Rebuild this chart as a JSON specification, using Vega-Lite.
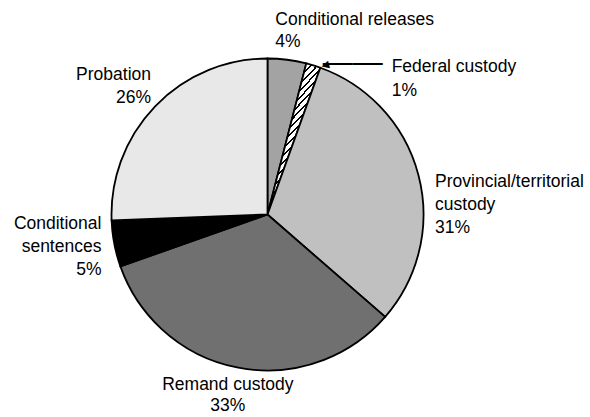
{
  "$schema": "https://vega.github.io/schema/vega-lite/v6.json",
  "autosize": "none",
  "width": 535,
  "height": 405,
  "padding": {"left": 0, "top": 12, "right": 55, "bottom": 0},
  "background": "white",
  "config": {"view": {"stroke": null}, "text": {"font": "Liberation Sans"}},
  "data": {
    "values": [
      {"cat": "Conditional releases", "value": 4.0, "order": 1, "label": "Conditional releases\n4%"},
      {"cat": "Federal custody", "value": 1.5, "order": 2, "label": "Federal custody\n1%"},
      {"cat": "Provincial/territorial custody", "value": 30.9, "order": 3, "label": "Provincial/territorial\ncustody\n31%"},
      {"cat": "Remand custody", "value": 33.2, "order": 4, "label": "Remand custody\n33%"},
      {"cat": "Conditional sentences", "value": 4.8, "order": 5, "label": "Conditional\nsentences\n5%"},
      {"cat": "Probation", "value": 25.6, "order": 6, "label": "Probation\n26%"}
    ]
  },
  "encoding": {
    "theta": {"field": "value", "type": "quantitative", "stack": true},
    "order": {"field": "order", "type": "quantitative"}
  },
  "layer": [
    {
      "mark": {"type": "arc", "outerRadius": 156, "stroke": "black", "strokeWidth": 1.8},
      "encoding": {
        "fill": {
          "condition": {
            "test": "datum.cat === 'Federal custody'",
            "value": {
              "gradient": "linear", "x1": 0, "y1": 0, "x2": 0.361, "y2": 1,
              "stops": [
                {"offset": 0, "color": "#fff"}, {"offset": 0.028, "color": "#fff"}, {"offset": 0.028, "color": "#000"}, {"offset": 0.04, "color": "#000"},
                {"offset": 0.04, "color": "#fff"}, {"offset": 0.068, "color": "#fff"}, {"offset": 0.068, "color": "#000"}, {"offset": 0.08, "color": "#000"},
                {"offset": 0.08, "color": "#fff"}, {"offset": 0.108, "color": "#fff"}, {"offset": 0.108, "color": "#000"}, {"offset": 0.12, "color": "#000"},
                {"offset": 0.12, "color": "#fff"}, {"offset": 0.148, "color": "#fff"}, {"offset": 0.148, "color": "#000"}, {"offset": 0.16, "color": "#000"},
                {"offset": 0.16, "color": "#fff"}, {"offset": 0.188, "color": "#fff"}, {"offset": 0.188, "color": "#000"}, {"offset": 0.2, "color": "#000"},
                {"offset": 0.2, "color": "#fff"}, {"offset": 0.228, "color": "#fff"}, {"offset": 0.228, "color": "#000"}, {"offset": 0.24, "color": "#000"},
                {"offset": 0.24, "color": "#fff"}, {"offset": 0.268, "color": "#fff"}, {"offset": 0.268, "color": "#000"}, {"offset": 0.28, "color": "#000"},
                {"offset": 0.28, "color": "#fff"}, {"offset": 0.308, "color": "#fff"}, {"offset": 0.308, "color": "#000"}, {"offset": 0.32, "color": "#000"},
                {"offset": 0.32, "color": "#fff"}, {"offset": 0.348, "color": "#fff"}, {"offset": 0.348, "color": "#000"}, {"offset": 0.36, "color": "#000"},
                {"offset": 0.36, "color": "#fff"}, {"offset": 0.388, "color": "#fff"}, {"offset": 0.388, "color": "#000"}, {"offset": 0.4, "color": "#000"},
                {"offset": 0.4, "color": "#fff"}, {"offset": 0.428, "color": "#fff"}, {"offset": 0.428, "color": "#000"}, {"offset": 0.44, "color": "#000"},
                {"offset": 0.44, "color": "#fff"}, {"offset": 0.468, "color": "#fff"}, {"offset": 0.468, "color": "#000"}, {"offset": 0.48, "color": "#000"},
                {"offset": 0.48, "color": "#fff"}, {"offset": 0.508, "color": "#fff"}, {"offset": 0.508, "color": "#000"}, {"offset": 0.52, "color": "#000"},
                {"offset": 0.52, "color": "#fff"}, {"offset": 0.548, "color": "#fff"}, {"offset": 0.548, "color": "#000"}, {"offset": 0.56, "color": "#000"},
                {"offset": 0.56, "color": "#fff"}, {"offset": 0.588, "color": "#fff"}, {"offset": 0.588, "color": "#000"}, {"offset": 0.6, "color": "#000"},
                {"offset": 0.6, "color": "#fff"}, {"offset": 0.628, "color": "#fff"}, {"offset": 0.628, "color": "#000"}, {"offset": 0.64, "color": "#000"},
                {"offset": 0.64, "color": "#fff"}, {"offset": 0.668, "color": "#fff"}, {"offset": 0.668, "color": "#000"}, {"offset": 0.68, "color": "#000"},
                {"offset": 0.68, "color": "#fff"}, {"offset": 0.708, "color": "#fff"}, {"offset": 0.708, "color": "#000"}, {"offset": 0.72, "color": "#000"},
                {"offset": 0.72, "color": "#fff"}, {"offset": 0.748, "color": "#fff"}, {"offset": 0.748, "color": "#000"}, {"offset": 0.76, "color": "#000"},
                {"offset": 0.76, "color": "#fff"}, {"offset": 0.788, "color": "#fff"}, {"offset": 0.788, "color": "#000"}, {"offset": 0.8, "color": "#000"},
                {"offset": 0.8, "color": "#fff"}, {"offset": 0.828, "color": "#fff"}, {"offset": 0.828, "color": "#000"}, {"offset": 0.84, "color": "#000"},
                {"offset": 0.84, "color": "#fff"}, {"offset": 0.868, "color": "#fff"}, {"offset": 0.868, "color": "#000"}, {"offset": 0.88, "color": "#000"},
                {"offset": 0.88, "color": "#fff"}, {"offset": 0.908, "color": "#fff"}, {"offset": 0.908, "color": "#000"}, {"offset": 0.92, "color": "#000"},
                {"offset": 0.92, "color": "#fff"}, {"offset": 0.948, "color": "#fff"}, {"offset": 0.948, "color": "#000"}, {"offset": 0.96, "color": "#000"},
                {"offset": 0.96, "color": "#fff"}, {"offset": 0.988, "color": "#fff"}, {"offset": 0.988, "color": "#000"}, {"offset": 1, "color": "#000"}
              ]
            }
          },
          "field": "cat",
          "type": "nominal",
          "legend": null,
          "scale": {
            "domain": ["Conditional releases", "Federal custody", "Provincial/territorial custody", "Remand custody", "Conditional sentences", "Probation"],
            "range": ["#a3a3a3", "#ffffff", "#c0c0c0", "#707070", "#000000", "#e8e8e8"]
          }
        }
      }
    },
    {
      "mark": {"type": "text", "radius": 190, "align": "left", "baseline": "alphabetic", "dx": -16, "dy": -1, "fontSize": 17.5, "lineHeight": 22, "lineBreak": "\n", "color": "black"},
      "encoding": {"text": {"condition": {"test": "datum.cat !== 'Conditional releases'", "value": ""}, "field": "label", "type": "nominal"}}
    },
    {
      "mark": {"type": "text", "radius": 174, "align": "left", "baseline": "alphabetic", "dx": 73, "dy": 24, "fontSize": 17.5, "lineHeight": 24, "lineBreak": "\n", "color": "black"},
      "encoding": {"text": {"condition": {"test": "datum.cat !== 'Federal custody'", "value": ""}, "field": "label", "type": "nominal"}}
    },
    {
      "mark": {"type": "text", "radius": 174, "align": "center", "baseline": "middle", "dx": 34, "dy": 15, "fontSize": 30, "color": "black"},
      "encoding": {"text": {"condition": {"test": "datum.cat === 'Federal custody'", "value": "——"}, "value": ""}}
    },
    {
      "mark": {"type": "text", "radius": 174, "align": "center", "baseline": "middle", "dx": 2, "dy": 18, "fontSize": 10, "angle": -15, "font": "DejaVu Sans", "color": "black"},
      "encoding": {"text": {"condition": {"test": "datum.cat === 'Federal custody'", "value": "◀"}, "value": ""}}
    },
    {
      "mark": {"type": "text", "radius": 169, "align": "left", "baseline": "alphabetic", "dx": 4, "dy": 15, "fontSize": 17.5, "lineHeight": 23, "lineBreak": "\n", "color": "black"},
      "encoding": {"text": {"condition": {"test": "datum.cat !== 'Provincial/territorial custody'", "value": ""}, "field": "label", "type": "nominal"}}
    },
    {
      "mark": {"type": "text", "radius": 185, "align": "center", "baseline": "alphabetic", "dx": -5, "dy": -6, "fontSize": 17.5, "lineHeight": 21, "lineBreak": "\n", "color": "black"},
      "encoding": {"text": {"condition": {"test": "datum.cat !== 'Remand custody'", "value": ""}, "field": "label", "type": "nominal"}}
    },
    {
      "mark": {"type": "text", "radius": 166, "align": "right", "baseline": "alphabetic", "dx": -3, "dy": -17, "fontSize": 17.5, "lineHeight": 23, "lineBreak": "\n", "color": "black"},
      "encoding": {"text": {"condition": {"test": "datum.cat !== 'Conditional sentences'", "value": ""}, "field": "label", "type": "nominal"}}
    },
    {
      "mark": {"type": "text", "radius": 177, "align": "right", "baseline": "alphabetic", "dx": 11, "dy": -12, "fontSize": 17.5, "lineHeight": 23, "lineBreak": "\n", "color": "black"},
      "encoding": {"text": {"condition": {"test": "datum.cat !== 'Probation'", "value": ""}, "field": "label", "type": "nominal"}}
    }
  ]
}
